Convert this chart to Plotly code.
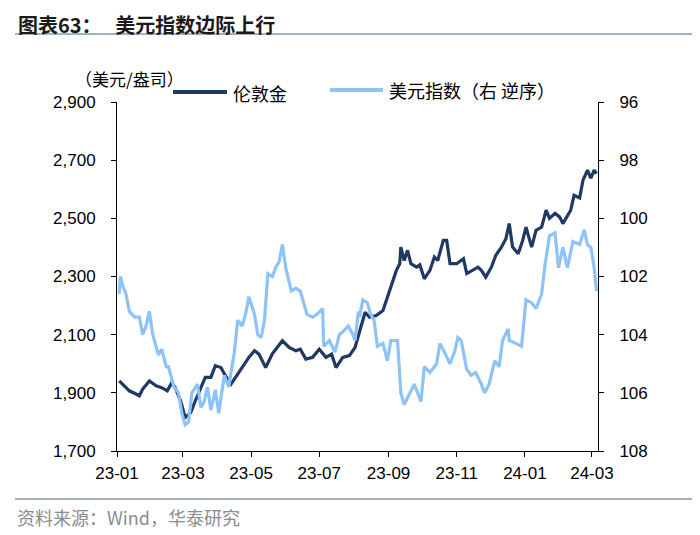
import plotly.graph_objects as go

# ---- data ----
gold_dates = ["2023-01-03","2023-01-06","2023-01-12","2023-01-18","2023-01-21","2023-01-24","2023-01-30",
              "2023-02-05","2023-02-10","2023-02-15","2023-02-19","2023-02-22","2023-02-27","2023-03-03",
              "2023-03-08","2023-03-12","2023-03-17","2023-03-21","2023-03-26","2023-03-30","2023-04-04",
              "2023-04-08","2023-04-13","2023-04-17","2023-04-23","2023-04-29","2023-05-04","2023-05-08",
              "2023-05-14","2023-05-20","2023-05-29","2023-06-04","2023-06-10","2023-06-14","2023-06-19",
              "2023-06-25","2023-07-01","2023-07-07","2023-07-12","2023-07-16","2023-07-22","2023-07-28",
              "2023-08-02","2023-08-06","2023-08-11","2023-08-15","2023-08-21","2023-08-27","2023-09-02",
              "2023-09-08","2023-09-11","2023-09-12","2023-09-15","2023-09-18","2023-09-21","2023-09-26",
              "2023-09-29","2023-10-03","2023-10-08","2023-10-12","2023-10-15","2023-10-20","2023-10-23",
              "2023-10-26","2023-11-01","2023-11-07","2023-11-10","2023-11-15","2023-11-20","2023-11-23",
              "2023-11-27","2023-12-02","2023-12-06","2023-12-11","2023-12-15","2023-12-18","2023-12-21",
              "2023-12-26","2023-12-30","2024-01-02","2024-01-07","2024-01-11","2024-01-16","2024-01-20",
              "2024-01-23","2024-01-28","2024-02-01","2024-02-04","2024-02-08","2024-02-11","2024-02-14",
              "2024-02-19","2024-02-22","2024-02-26","2024-02-29","2024-03-03","2024-03-05"]
gold_values = [1941,1930,1907,1896,1890,1913,1941,
               1924,1918,1907,1935,1918,1872,1815,
               1832,1872,1918,1953,1953,1993,1987,
               1959,1930,1953,1987,2022,2045,2033,
               1987,2034,2079,2056,2045,2050,2016,
               2022,2050,2022,2033,1987,2022,2028,
               2056,2114,2177,2160,2166,2183,2252,
               2321,2344,2401,2355,2390,2344,2332,
               2340,2292,2321,2367,2355,2424,2424,
               2344,2344,2361,2310,2321,2332,2321,
               2298,2332,2373,2401,2430,2482,2401,
               2378,2424,2470,2401,2459,2470,2528,
               2500,2517,2505,2482,2511,2528,2579,
               2570,2631,2666,2638,2666,2654]

dxy_dates = ["2023-01-03","2023-01-04","2023-01-06","2023-01-09","2023-01-12","2023-01-17","2023-01-21",
             "2023-01-24","2023-01-27","2023-01-30","2023-02-02","2023-02-07","2023-02-10","2023-02-14",
             "2023-02-16","2023-02-21","2023-02-25","2023-02-28","2023-03-03","2023-03-06","2023-03-09",
             "2023-03-14","2023-03-17","2023-03-20","2023-03-23","2023-03-26","2023-03-30","2023-04-02",
             "2023-04-07","2023-04-11","2023-04-16","2023-04-19","2023-04-23","2023-04-26","2023-04-29",
             "2023-05-04","2023-05-07","2023-05-10","2023-05-13","2023-05-16","2023-05-20","2023-05-23",
             "2023-05-26","2023-05-29","2023-06-01","2023-06-06","2023-06-10","2023-06-14","2023-06-20",
             "2023-06-25","2023-06-29","2023-07-04","2023-07-05","2023-07-10","2023-07-15","2023-07-19",
             "2023-07-22","2023-07-27","2023-07-31","2023-08-02","2023-08-05","2023-08-06","2023-08-09",
             "2023-08-13","2023-08-16","2023-08-19","2023-08-22","2023-08-27","2023-08-31","2023-09-03",
             "2023-09-09","2023-09-12","2023-09-15","2023-09-20","2023-09-24","2023-09-27","2023-09-30",
             "2023-10-03","2023-10-08","2023-10-14","2023-10-17","2023-10-21","2023-10-26","2023-10-30",
             "2023-11-02","2023-11-05","2023-11-10","2023-11-14","2023-11-18","2023-11-23","2023-11-26",
             "2023-11-30","2023-12-05","2023-12-09","2023-12-12","2023-12-17","2023-12-18","2023-12-24",
             "2023-12-29","2024-01-02","2024-01-07","2024-01-11","2024-01-16","2024-01-19","2024-01-23",
             "2024-01-28","2024-01-31","2024-02-04","2024-02-08","2024-02-13","2024-02-19","2024-02-23",
             "2024-02-26","2024-02-29","2024-03-03","2024-03-05"]
dxy_values = [102.6,102.0,102.3,102.6,103.2,103.4,103.4,
              104.0,103.7,103.2,104.0,104.7,104.5,105.1,
              105.1,105.8,106.0,106.7,107.1,107.0,106.0,
              105.7,106.5,106.3,105.8,106.6,105.9,106.7,
              105.4,105.8,104.6,103.5,103.7,103.3,102.7,
              103.3,104.0,104.1,103.5,101.9,102.0,101.7,
              101.5,100.9,101.7,102.5,102.4,102.5,103.3,
              103.4,103.3,103.1,104.4,104.2,104.6,104.0,
              103.9,103.7,104.0,104.2,103.2,103.4,102.8,
              102.9,103.3,103.5,104.4,104.3,104.9,104.2,
              104.2,106.0,106.4,106.0,105.7,106.0,106.3,
              105.1,105.3,105.0,104.3,104.6,105.0,104.6,
              104.1,104.2,105.2,105.4,105.3,105.7,106.0,
              105.7,104.9,105.1,104.2,103.8,104.2,104.3,
              104.4,102.8,102.9,103.1,102.6,101.6,100.6,
              100.5,101.7,101.0,101.7,100.8,100.9,100.4,
              100.9,101.0,101.7,102.5]

x_tickvals = ["2023-01-01","2023-03-01","2023-05-01","2023-07-01","2023-09-01","2023-11-01","2024-01-01","2024-03-01"]
x_ticktext = ["23-01","23-03","23-05","23-07","23-09","23-11","24-01","24-03"]
left_ticks = [1700, 1900, 2100, 2300, 2500, 2700, 2900]
right_ticks = [96, 98, 100, 102, 104, 106, 108]

gold_name = "伦敦金"
dxy_name = "美元指数（右 逆序）"
title_text = "图表63：\u00a0\u00a0\u00a0美元指数边际上行"
unit_text = "（美元/盎司）"
source_text = "资料来源：Wind，华泰研究"

DARK = "#1F3864"
LIGHT = "#8DC3F6"
CJK = "Noto Sans CJK SC"
LAT = "Liberation Sans, Arial"

fig = go.Figure()
fig.add_trace(go.Scatter(x=gold_dates, y=gold_values, mode="lines", name=gold_name,
                         line=dict(color=DARK, width=3.2), yaxis="y"))
fig.add_trace(go.Scatter(x=dxy_dates, y=dxy_values, mode="lines", name=dxy_name,
                         line=dict(color=LIGHT, width=3.2), yaxis="y2"))

# plot area geometry in page pixels (page has an 8px body margin)
OFF = 8
L, R, T, B = 117, 598, 102, 451
W, H = 700, 535
def px(xp):
    return (xp - L) / (R - L)
def py(yp):
    return (B - yp) / (B - T)

fig.update_layout(
    width=W, height=H,
    margin=dict(l=L - OFF, r=W - (R - OFF), t=T - OFF, b=H - (B - OFF), pad=0),
    paper_bgcolor="white", plot_bgcolor="white",
    showlegend=False,
    font=dict(family=LAT, size=17, color="black"),
    xaxis=dict(type="date", range=["2023-01-01", "2024-03-06 10:00"],
               tickmode="array", tickvals=x_tickvals, ticktext=x_ticktext,
               showgrid=False, zeroline=False, showline=True, linecolor="black", linewidth=1,
               ticks="outside", ticklen=5, tickcolor="black", tickwidth=1,
               tickfont=dict(family=LAT, size=17, color="black"), ticklabelstandoff=2),
    yaxis=dict(range=[1700, 2900], tickmode="array", tickvals=left_ticks,
               tickformat=",", showgrid=False, zeroline=False,
               showline=True, linecolor="black", linewidth=1,
               ticks="outside", ticklen=5, tickcolor="black", tickwidth=1,
               tickfont=dict(family=LAT, size=17, color="black"), ticklabelstandoff=12),
    yaxis2=dict(range=[108, 96], tickmode="array", tickvals=right_ticks,
                overlaying="y", side="right", showgrid=False, zeroline=False,
                showline=True, linecolor="black", linewidth=1,
                ticks="outside", ticklen=5, tickcolor="black", tickwidth=1,
                tickfont=dict(family=LAT, size=17, color="black"), ticklabelstandoff=12),
)

shapes = []
annotations = []
# title + rule
annotations.append(dict(text="<b>" + title_text + "</b>", xref="paper", yref="paper",
                        x=px(17), y=py(8.5), xanchor="left", yanchor="top", showarrow=False,
                        borderpad=0,
                        font=dict(family=CJK, size=20, color="#1a1a1a")))
shapes.append(dict(type="line", xref="paper", yref="paper", x0=px(15), x1=px(697), y0=py(34), y1=py(34),
                   line=dict(color="#8099AE", width=1.5)))
# footer rule + source
shapes.append(dict(type="line", xref="paper", yref="paper", x0=px(15), x1=px(697), y0=py(499), y1=py(499),
                   line=dict(color="#8099AE", width=1.5)))
annotations.append(dict(text=source_text, xref="paper", yref="paper",
                        x=px(15), y=py(517), xanchor="left", yanchor="middle", showarrow=False,
                        font=dict(family=CJK, size=18, color="#8c8c8c")))
# unit label
annotations.append(dict(text=unit_text, xref="paper", yref="paper",
                        x=px(73), y=py(79), xanchor="left", yanchor="middle", showarrow=False,
                        font=dict(family=CJK, size=17, color="black")))
# legend
shapes.append(dict(type="line", xref="paper", yref="paper", x0=px(173), x1=px(227), y0=py(92), y1=py(92),
                   line=dict(color=DARK, width=4)))
annotations.append(dict(text=gold_name, xref="paper", yref="paper",
                        x=px(231), y=py(93), xanchor="left", yanchor="middle", showarrow=False,
                        font=dict(family=CJK, size=18, color="black")))
shapes.append(dict(type="line", xref="paper", yref="paper", x0=px(330), x1=px(383), y0=py(90), y1=py(90),
                   line=dict(color=LIGHT, width=4)))
annotations.append(dict(text=dxy_name, xref="paper", yref="paper",
                        x=px(387), y=py(90), xanchor="left", yanchor="middle", showarrow=False,
                        font=dict(family=CJK, size=18, color="black")))

fig.update_layout(shapes=shapes, annotations=annotations)
fig.write_html("out.html")
